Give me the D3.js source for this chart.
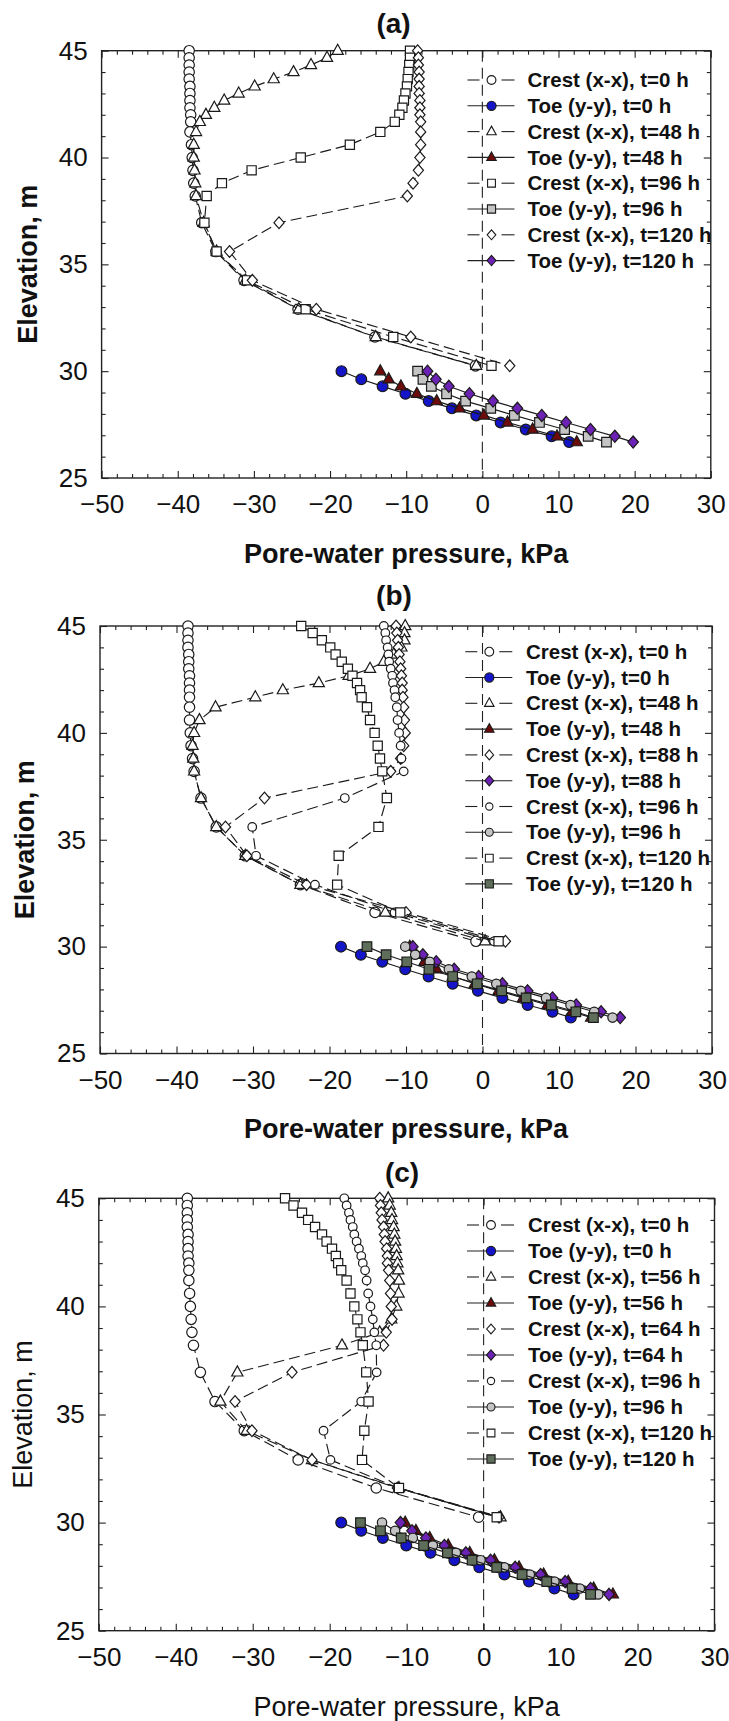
<!DOCTYPE html>
<html>
<head>
<meta charset="utf-8">
<script src="https://cdn.jsdelivr.net/npm/d3@7"></script>
<style>
  body { margin: 0; background: #fff; }
  svg { display: block; }
</style>
</head>
<body>
<div class="customChart"></div>
<script>
// elevations (m) of the crest and toe measuring points
const crestZ = [45, 44.67, 44.33, 44, 43.67, 43.33, 43, 42.67, 42.33, 42, 41.67, 41.2, 40.6, 40, 39.4, 38.8, 38.2, 36.95, 35.6, 34.25, 32.9, 31.6, 30.25];
const toeZ = [30, 29.62, 29.29, 28.94, 28.6, 28.26, 27.93, 27.6, 27.27, 26.95, 26.68];

const xTicks = [-50, -40, -30, -20, -10, 0, 10, 20, 30];
const yTicks = [25, 30, 35, 40, 45];

// panel (a) pore-water pressure, kPa
const aCrest0 = [-38.5,-38.5,-38.5,-38.5,-38.5,-38.4,-38.4,-38.4,-38.4,-38.3,-38.3,-38.4,-38.2,-38.1,-38.0,-37.9,-37.7,-36.85,-35.0,-31.3,-24.2,-14.1,-0.9];
const aToe0 = [-18.5,-15.9,-13.1,-10.1,-7.05,-4.0,-0.8,2.4,5.7,9.1,11.4];
const aCrest48 = [-19.0,-20.4,-22.5,-24.8,-27.4,-29.9,-32.0,-33.9,-35.2,-36.3,-37.1,-37.6,-37.9,-37.9,-37.8,-37.7,-37.6,-36.6,-34.9,-31.1,-24.1,-14.0,-0.8];
const aToe48 = [-13.4,-12.3,-10.7,-8.6,-6.0,-3.0,0.2,3.3,6.6,9.8,12.4];
const aCrest96 = [-9.5,-9.5,-9.6,-9.7,-9.8,-9.9,-10.1,-10.3,-10.5,-10.9,-11.5,-13.4,-17.4,-23.85,-30.3,-34.2,-36.2,-36.5,-34.9,-30.9,-23.2,-11.7,1.2];
const aToe96 = [-8.5,-7.8,-6.7,-4.7,-2.2,1.1,4.2,7.5,10.8,13.9,16.3];
const aCrest120 = [-8.5,-8.4,-8.4,-8.3,-8.3,-8.3,-8.3,-8.2,-8.2,-8.2,-8.1,-8.1,-8.1,-8.2,-8.4,-9.1,-9.85,-26.7,-33.2,-30.2,-21.8,-9.4,3.6];
const aToe120 = [-7.2,-6.1,-4.4,-1.7,1.4,4.6,7.8,11.0,14.2,17.4,19.8];

// panel (b)
const bCrest0 = [-38.5,-38.5,-38.5,-38.5,-38.4,-38.4,-38.4,-38.3,-38.3,-38.3,-38.3,-38.3,-38.3,-38.2,-38.1,-37.9,-37.7,-36.8,-34.8,-31.0,-23.8,-14.05,-0.86];
const bToe0 = [-18.5,-15.9,-13.1,-10.1,-7.05,-3.9,-0.6,2.6,5.9,9.15,11.55];
const bCrest48 = [-10.1,-10.2,-10.2,-10.6,-11.6,-12.9,-14.7,-17.5,-21.4,-26.1,-29.7,-34.9,-37.0,-37.7,-37.9,-37.8,-37.7,-36.8,-34.8,-31.0,-23.8,-12.7,0.35];
const bToe48 = [-9.5,-8.7,-7.6,-6.0,-3.9,-1.0,2.1,5.3,8.5,11.7,14.2];
const bCrest88 = [-11.3,-11.2,-11.1,-11.0,-10.9,-10.8,-10.7,-10.6,-10.5,-10.5,-10.4,-10.3,-10.2,-10.1,-10.3,-10.7,-12.0,-28.5,-33.6,-30.8,-23.0,-10.0,3.0];
const bToe88 = [-9.1,-7.8,-6.05,-3.7,-0.5,2.6,5.9,9.15,12.25,15.5,18.0];
const bCrest96 = [-12.9,-12.7,-12.6,-12.4,-12.3,-12.2,-12.0,-11.8,-11.7,-11.5,-11.4,-11.2,-11.1,-10.9,-10.7,-10.6,-10.3,-18.0,-30.1,-29.6,-21.9,-11.5,1.5];
const bToe96 = [-10.1,-8.8,-6.9,-4.4,-1.4,1.8,5.0,8.3,11.5,14.6,17.0];
const bCrest120 = [-23.7,-22.2,-21.0,-19.9,-19.2,-18.4,-17.6,-17.0,-16.4,-16.0,-15.8,-15.1,-14.7,-14.1,-13.7,-13.4,-13.1,-12.5,-13.6,-18.8,-19.0,-10.75,2.1];
const bToe120 = [-15.1,-12.6,-9.9,-7.0,-3.9,-0.7,2.5,5.7,9.0,12.2,14.5];

// panel (c)
const cCrest0 = [-38.5,-38.5,-38.5,-38.5,-38.5,-38.4,-38.4,-38.4,-38.4,-38.3,-38.3,-38.3,-38.2,-38.1,-38.0,-37.9,-37.7,-36.8,-34.9,-31.1,-24.1,-13.95,-0.65];
const cToe0 = [-18.5,-15.9,-13.1,-10.05,-6.9,-3.8,-0.56,2.7,5.9,9.2,11.7];
const cCrest56 = [-12.4,-12.2,-12.0,-11.9,-11.7,-11.6,-11.5,-11.4,-11.3,-11.2,-11.1,-11.0,-11.05,-11.35,-12.0,-13.5,-18.4,-32.0,-34.2,-30.8,-22.3,-11.0,2.2];
const cToe56 = [-10.2,-8.8,-7.0,-4.6,-1.8,1.4,4.6,7.8,11.0,14.3,16.8];
const cCrest64 = [-13.5,-13.4,-13.3,-13.2,-13.0,-12.9,-12.8,-12.6,-12.5,-12.5,-12.35,-12.2,-12.1,-12.0,-11.9,-12.65,-13.0,-24.9,-32.3,-30.1,-22.3,-11.2,2.0];
const cToe64 = [-10.8,-9.3,-7.5,-5.1,-2.3,0.9,4.1,7.4,10.6,13.9,16.3];
const cCrest96 = [-18.1,-17.8,-17.5,-17.3,-17.0,-16.8,-16.5,-16.2,-15.9,-15.7,-15.4,-15.2,-15.0,-14.7,-14.4,-14.2,-13.95,-13.9,-15.9,-20.8,-19.9,-11.1,1.8];
const cToe96 = [-13.2,-11.5,-9.2,-6.6,-3.6,-0.4,2.7,6.0,9.2,12.5,14.9];
const cCrest120 = [-25.8,-24.7,-23.6,-22.8,-21.9,-21.0,-20.4,-19.7,-19.2,-18.9,-18.5,-17.8,-17.3,-16.8,-16.4,-16.0,-15.7,-15.25,-14.95,-15.5,-15.8,-11.0,1.7];
const cToe120 = [-16.0,-13.4,-10.7,-7.8,-4.7,-1.5,1.7,5.0,8.2,11.5,13.9];

const blue = "#1414c8", darkRed = "#6e0b0b", purple = "#6c22b4", lightGrey = "#c4c4c4", greenGrey = "#5f6e5a";

const W = 729, H = 1721;
const svg = d3.select('.customChart')
	.append('svg')
	.attr('width', W)
	.attr('height', H)
	.style('font-family', '"Liberation Sans", Arial, sans-serif');

// marker outline shapes, s = half size
function shapePath(shape, s) {
	switch (shape) {
		case "circle":
			return `M${s},0A${s},${s} 0 1,1 ${-s},0A${s},${s} 0 1,1 ${s},0Z`;
		case "triangle":
			return `M0,${-s * 1.15}L${s},${s * 0.65}L${-s},${s * 0.65}Z`;
		case "square":
			return `M${-s},${-s}H${s}V${s}H${-s}Z`;
		case "diamond":
			return `M0,${-s * 1.15}L${s},0L0,${s * 1.15}L${-s},0Z`;
	}
}

function crest(label, values, shape, size) {
	return {label, values, z: crestZ, kind: "crest", shape, fill: "#fff", size};
}
function toe(label, values, shape, fill, size) {
	return {label, values, z: toeZ, kind: "toe", shape, fill, size};
}

const panels = [
	{
		title: "(a)", x0: 101.6, x1: 710.8, y0: 50.7, y1: 478, titleX: 393.5, titleY: 33,
		xTitleY: 563, yTitleX: 28, bold: true, legY: 80, legDy: 25.8, legSym: 491.5, legText: 527.5,
		series: [
			crest("Crest (x-x), t=0 h", aCrest0, "circle", 5.2),
			toe("Toe (y-y), t=0 h", aToe0, "circle", blue, 5.4),
			crest("Crest (x-x), t=48 h", aCrest48, "triangle", 5.6),
			toe("Toe (y-y), t=48 h", aToe48, "triangle", darkRed, 5.6),
			crest("Crest (x-x), t=96 h", aCrest96, "square", 4.6),
			toe("Toe (y-y), t=96 h", aToe96, "square", lightGrey, 4.8),
			crest("Crest (x-x), t=120 h", aCrest120, "diamond", 5.1),
			toe("Toe (y-y), t=120 h", aToe120, "diamond", purple, 5.3)
		]
	},
	{
		title: "(b)", x0: 100, x1: 712, y0: 626, y1: 1053.5, titleX: 394, titleY: 605,
		xTitleY: 1138, yTitleX: 24.5, bold: true, legY: 651.7, legDy: 25.8, legSym: 489.3, legText: 526,
		series: [
			crest("Crest (x-x), t=0 h", bCrest0, "circle", 5.2),
			toe("Toe (y-y), t=0 h", bToe0, "circle", blue, 5.4),
			crest("Crest (x-x), t=48 h", bCrest48, "triangle", 5.6),
			toe("Toe (y-y), t=48 h", bToe48, "triangle", darkRed, 5.6),
			crest("Crest (x-x), t=88 h", bCrest88, "diamond", 5.1),
			toe("Toe (y-y), t=88 h", bToe88, "diamond", purple, 5.3),
			crest("Crest (x-x), t=96 h", bCrest96, "circle", 4.3),
			toe("Toe (y-y), t=96 h", bToe96, "circle", lightGrey, 4.7),
			crest("Crest (x-x), t=120 h", bCrest120, "square", 4.6),
			toe("Toe (y-y), t=120 h", bToe120, "square", greenGrey, 4.8)
		]
	},
	{
		title: "(c)", x0: 98.8, x1: 714.5, y0: 1198.3, y1: 1630.7, titleX: 402, titleY: 1182,
		xTitleY: 1716, yTitleX: 23, bold: false, legY: 1225, legDy: 26, legSym: 491, legText: 528,
		series: [
			crest("Crest (x-x), t=0 h", cCrest0, "circle", 5.2),
			toe("Toe (y-y), t=0 h", cToe0, "circle", blue, 5.4),
			crest("Crest (x-x), t=56 h", cCrest56, "triangle", 5.6),
			toe("Toe (y-y), t=56 h", cToe56, "triangle", darkRed, 5.6),
			crest("Crest (x-x), t=64 h", cCrest64, "diamond", 5.1),
			toe("Toe (y-y), t=64 h", cToe64, "diamond", purple, 5.3),
			crest("Crest (x-x), t=96 h", cCrest96, "circle", 4.3),
			toe("Toe (y-y), t=96 h", cToe96, "circle", lightGrey, 4.7),
			crest("Crest (x-x), t=120 h", cCrest120, "square", 4.6),
			toe("Toe (y-y), t=120 h", cToe120, "square", greenGrey, 4.8)
		]
	}
];

panels.forEach(drawPanel);

function drawPanel(p) {
	const g = svg.append("g");
	const xScale = d3.scaleLinear().domain([-50, 30]).range([p.x0, p.x1]);
	const yScale = d3.scaleLinear().domain([25, 45]).range([p.y1, p.y0]);
	const minorX = d3.range(-50, 31, 2).filter(v => v % 10 !== 0);
	const minorY = d3.range(25, 46, 1).filter(v => v % 5 !== 0);

	// axes with inward ticks on all four sides
	const bottom = g.append("g").attr("transform", `translate(0,${p.y1})`)
		.call(d3.axisBottom(xScale).tickValues(xTicks).tickSizeInner(-7).tickSizeOuter(0).tickPadding(17));
	g.append("g").attr("transform", `translate(0,${p.y1})`)
		.call(d3.axisBottom(xScale).tickValues(minorX).tickSizeInner(-4).tickSizeOuter(0).tickFormat(""));
	g.append("g").attr("transform", `translate(0,${p.y0})`)
		.call(d3.axisTop(xScale).tickValues(xTicks).tickSizeInner(-7).tickSizeOuter(0).tickFormat(""));
	g.append("g").attr("transform", `translate(0,${p.y0})`)
		.call(d3.axisTop(xScale).tickValues(minorX).tickSizeInner(-4).tickSizeOuter(0).tickFormat(""));
	const left = g.append("g").attr("transform", `translate(${p.x0},0)`)
		.call(d3.axisLeft(yScale).tickValues(yTicks).tickSizeInner(-7).tickSizeOuter(0).tickPadding(14));
	g.append("g").attr("transform", `translate(${p.x0},0)`)
		.call(d3.axisLeft(yScale).tickValues(minorY).tickSizeInner(-4).tickSizeOuter(0).tickFormat(""));
	g.append("g").attr("transform", `translate(${p.x1},0)`)
		.call(d3.axisRight(yScale).tickValues(yTicks).tickSizeInner(-7).tickSizeOuter(0).tickFormat(""));
	g.append("g").attr("transform", `translate(${p.x1},0)`)
		.call(d3.axisRight(yScale).tickValues(minorY).tickSizeInner(-4).tickSizeOuter(0).tickFormat(""));

	g.selectAll(".domain").remove();
	g.selectAll(".tick line").attr("stroke", "#222").attr("stroke-width", 1.1);
	bottom.selectAll("text").attr("font-size", 26).attr("fill", "#111").attr("font-family", null);
	left.selectAll("text").attr("font-size", 26).attr("fill", "#111").attr("font-family", null);

	// frame
	g.append("rect")
		.attr("x", p.x0).attr("y", p.y0)
		.attr("width", p.x1 - p.x0).attr("height", p.y1 - p.y0)
		.attr("fill", "none").attr("stroke", "#222").attr("stroke-width", 1.4);

	// zero line
	g.append("line")
		.attr("x1", xScale(0)).attr("x2", xScale(0))
		.attr("y1", p.y0).attr("y2", p.y1)
		.attr("stroke", "#222").attr("stroke-width", 1.1)
		.attr("stroke-dasharray", "11,6");

	// titles
	g.append("text")
		.attr("x", p.titleX).attr("y", p.titleY)
		.attr("text-anchor", "middle").attr("font-size", 28).attr("font-weight", "bold")
		.attr("fill", "#111")
		.text(p.title);
	g.append("text")
		.attr("x", (p.x0 + p.x1) / 2).attr("y", p.xTitleY)
		.attr("text-anchor", "middle").attr("font-size", 27)
		.attr("font-weight", p.bold ? "bold" : "normal")
		.attr("fill", "#111")
		.text("Pore-water pressure, kPa");
	g.append("text")
		.attr("transform", `translate(${p.yTitleX},${(p.y0 + p.y1) / 2}) rotate(-90)`)
		.attr("text-anchor", "middle").attr("dy", "0.35em").attr("font-size", 27)
		.attr("font-weight", p.bold ? "bold" : "normal")
		.attr("fill", "#111")
		.text("Elevation, m");

	const line = d3.line()
		.x(d => xScale(d[0]))
		.y(d => yScale(d[1]));

	// series: line first, then symbols
	p.series.forEach(s => {
		const pts = s.values.map((v, i) => [v, s.z[i]]);
		g.append("path")
			.datum(pts)
			.attr("fill", "none")
			.attr("stroke", "#1a1a1a")
			.attr("stroke-width", 1.15)
			.attr("stroke-dasharray", s.kind === "crest" ? "11,5" : null)
			.attr("d", line);
		g.append("g")
			.selectAll("path")
			.data(pts)
			.join("path")
			.attr("transform", d => `translate(${xScale(d[0])},${yScale(d[1])})`)
			.attr("d", shapePath(s.shape, s.size))
			.attr("fill", s.fill)
			.attr("stroke", "#1a1a1a")
			.attr("stroke-width", 1.2);
	});

	// legend
	const leg = g.append("g")
		.selectAll("g")
		.data(p.series)
		.join("g")
		.attr("transform", (d, i) => `translate(0,${p.legY + i * p.legDy})`);
	leg.each(function(d) {
		const row = d3.select(this);
		if (d.kind === "crest") {
			row.append("line").attr("x1", p.legSym - 24).attr("x2", p.legSym - 12)
				.attr("stroke", "#222").attr("stroke-width", 1.1);
			row.append("line").attr("x1", p.legSym + 10).attr("x2", p.legSym + 23)
				.attr("stroke", "#222").attr("stroke-width", 1.1);
		} else {
			row.append("line").attr("x1", p.legSym - 24).attr("x2", p.legSym + 23)
				.attr("stroke", "#222").attr("stroke-width", 1.1);
		}
		row.append("path")
			.attr("transform", `translate(${p.legSym},0)`)
			.attr("d", shapePath(d.shape, d.size * 0.85))
			.attr("fill", d.fill)
			.attr("stroke", "#1a1a1a")
			.attr("stroke-width", 1.1);
		row.append("text")
			.attr("x", p.legText)
			.attr("dy", "0.35em")
			.attr("font-size", 20.5)
			.attr("font-weight", "bold")
			.attr("fill", "#111")
			.text(d.label);
	});
}
</script>
</body>
</html>
